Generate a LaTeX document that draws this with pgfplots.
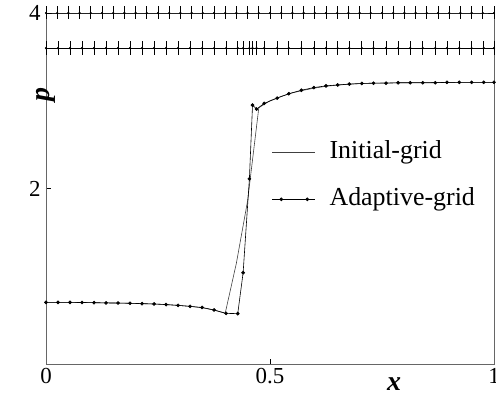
\documentclass[border=0pt]{standalone}
\usepackage{fontspec}
\setmainfont{Liberation Serif}
\usepackage{pgfplots}
\usepackage{pgfplotstable}
\pgfplotsset{compat=1.18}
\pgfplotstableread{
x p
0 0.702
0.025 0.702
0.05 0.702
0.075 0.701
0.1 0.700
0.125 0.697
0.15 0.695
0.175 0.693
0.2 0.690
0.225 0.686
0.25 0.682
0.275 0.675
0.3 0.666
0.325 0.655
0.35 0.640
0.375 0.614
0.4 0.578
0.425 1.15
0.45 1.86
0.475 2.92
0.5 3.00
0.525 3.05
0.55 3.09
0.575 3.12
0.6 3.145
0.625 3.165
0.65 3.178
0.675 3.188
0.7 3.195
0.725 3.200
0.75 3.202
0.775 3.204
0.8 3.205
0.825 3.206
0.85 3.207
0.875 3.208
0.9 3.208
0.925 3.209
0.95 3.21
0.975 3.21
1 3.21
}\initialgrid
\pgfplotstableread{
x p
0 0.702
0.0268 0.702
0.0536 0.702
0.0804 0.701
0.1072 0.699
0.134 0.696
0.1608 0.695
0.1876 0.692
0.2144 0.688
0.2412 0.684
0.268 0.677
0.2948 0.668
0.3216 0.657
0.3484 0.644
0.3752 0.616
0.402 0.577
0.428 0.574
0.440 1.04
0.454 2.11
0.461 2.95
0.470 2.905
0.487 2.97
0.516 3.03
0.542 3.08
0.570 3.12
0.598 3.15
0.625 3.17
0.651 3.18
0.677 3.19
0.705 3.197
0.731 3.20
0.759 3.20
0.786 3.205
0.813 3.205
0.841 3.205
0.869 3.205
0.895 3.21
0.9225 3.21
0.950 3.21
0.977 3.21
1.0 3.21
}\adaptivegrid
\begin{document}
\begin{tikzpicture}
\begin{axis}[name=ax, scale only axis, width=448bp, height=351bp,
  xmin=0, xmax=1, ymin=0, ymax=4,
  xtick={0,0.5,1}, xticklabels={0,0.5,1}, ytick={2,4},
  xtick pos=lower, ytick pos=lower, tick align=inside, major tick length=5bp,
  axis line style={black!60, line width=0.6pt},
  tick style={black, line width=0.6pt},
  ticklabel style={font=\fontsize{23}{23}\selectfont},
  /pgf/number format/assume math mode=true,
  xticklabel style={yshift=-1bp},
  yticklabel style={xshift=-2bp},
  xlabel={\textbf{\textit{x}}},
  xlabel style={at={(axis description cs:0.777,0)}, anchor=center, yshift=-20bp, font=\fontsize{28}{28}\selectfont},
  ylabel={\textbf{\textit{p}}},
  ylabel style={at={(axis description cs:0,0.847)}, anchor=center, xshift=-28bp, font=\fontsize{28}{28}\selectfont},
  legend style={draw=none, fill=none, at={(axis description cs:0.504,0.536)}, anchor=west, inner sep=0pt,
    font=\fontsize{26}{26}\selectfont, row sep=23bp, column sep=14bp,
    nodes={inner sep=0pt, text height=18bp, text depth=6bp}},
  legend cell align=left,
  legend image code/.code={\draw[mark repeat=2,mark phase=2,#1] plot coordinates {(0bp,0bp) (9bp,0bp) (21bp,0bp) (35bp,0bp) (43bp,0bp)};},
]
% grid rows
\addplot[black, line width=0.7pt, mark=|, mark size=6.5bp, mark options={line width=0.7pt}, forget plot]
  table[x=x, y expr=4] {\initialgrid};
\addplot[black, only marks, mark=*, mark size=0.9bp, forget plot]
  table[x=x, y expr=4] {\initialgrid};
\addplot[black, line width=0.7pt, mark=|, mark size=7bp, mark options={line width=0.7pt}, forget plot]
  table[x=x, y expr=3.6] {\adaptivegrid};
\addplot[black, only marks, mark=*, mark size=0.9bp, forget plot]
  table[x=x, y expr=3.6] {\adaptivegrid};
% curves
\addplot[black!75, line width=0.6pt] table[x=x, y=p] {\initialgrid};
\addlegendentry{Initial-grid}
\addplot[black, line width=0.6pt, mark=*, mark size=1.5bp] table[x=x, y=p] {\adaptivegrid};
\addlegendentry{Adaptive-grid}
\end{axis}
\pgfresetboundingbox
\path ([shift={(-46bp,-32bp)}]ax.south west) rectangle ([shift={(2bp,13bp)}]ax.north east);
\end{tikzpicture}
\end{document}
